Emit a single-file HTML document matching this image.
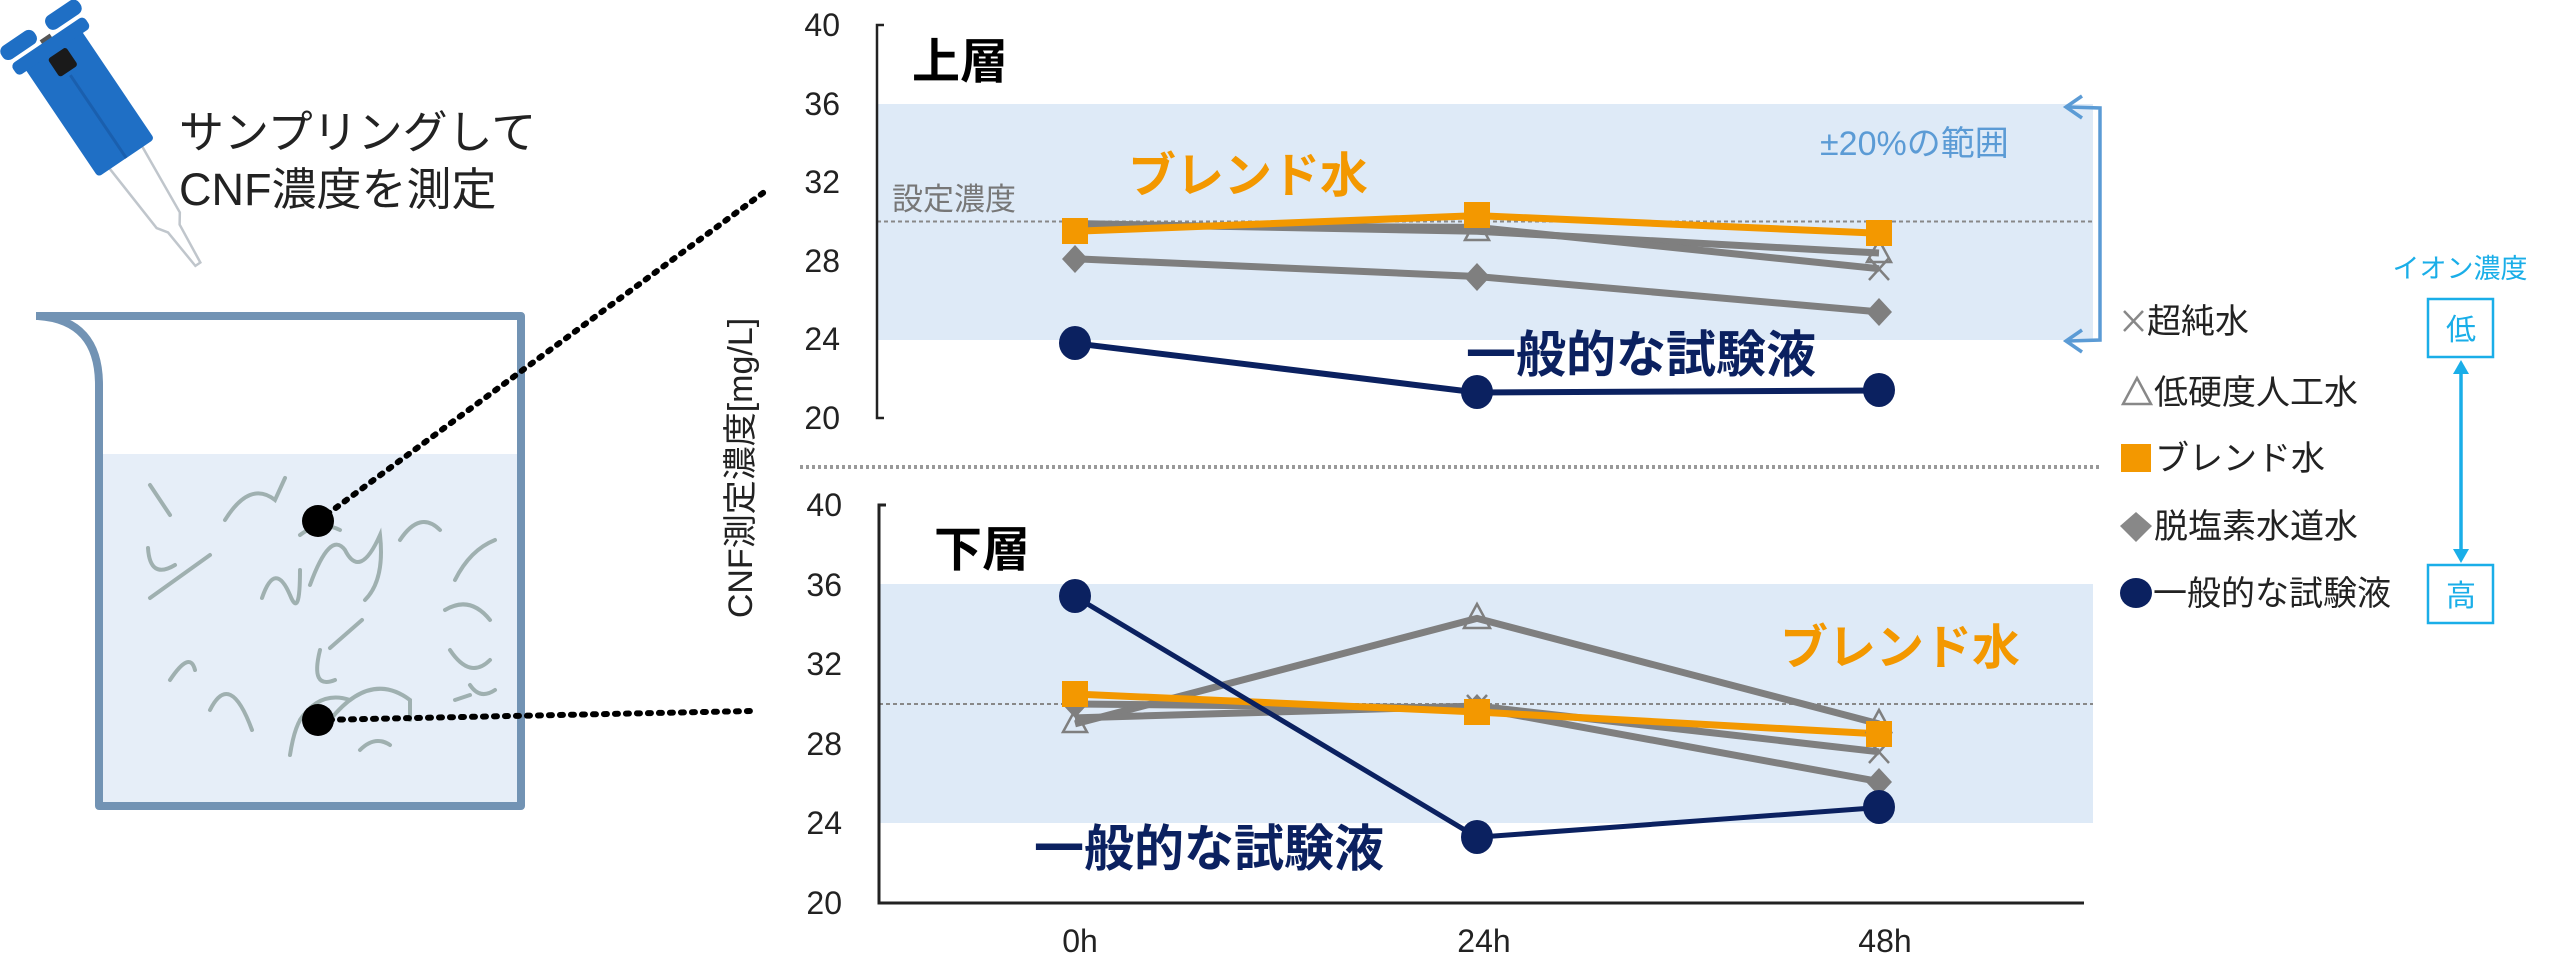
<!DOCTYPE html>
<html><head><meta charset="utf-8"><style>
html,body{margin:0;padding:0;background:#fff;}
svg{display:block;}
text{font-family:"Liberation Sans","Noto Sans CJK JP",sans-serif;}
</style></head><body>
<svg width="2560" height="962" viewBox="0 0 2560 962" xmlns="http://www.w3.org/2000/svg">
<!-- pipette -->
<g transform="translate(48,42) rotate(56)">
<polygon points="135,-20 215,-14 225,-7 268,-3 268,3 225,7 215,14 135,20" fill="#fff" stroke="#c0c6cc" stroke-width="2.5"/>
<rect x="0" y="-34" width="140" height="68" rx="4" fill="#1f6fc5"/>
<rect x="-6" y="-6" width="10" height="12" fill="#555"/>
<rect x="-22" y="-48" width="16" height="40" rx="7" fill="#1f6fc5"/>
<rect x="-22" y="6" width="16" height="40" rx="7" fill="#1f6fc5"/>
<rect x="-2" y="-44" width="14" height="88" rx="5" fill="#1f6fc5"/>
<rect x="14" y="-12" width="22" height="22" rx="3" fill="#1a1a1a"/>
<line x1="40" y1="0" x2="140" y2="0" stroke="#1a5fae" stroke-width="3"/>
</g>
<text x="179" y="148" font-size="45" fill="#222">サンプリングして</text>
<text x="179" y="205" font-size="45" fill="#222">CNF濃度を測定</text>
<!-- beaker -->
<rect x="99" y="454" width="422" height="352" fill="#e6eef8"/>
<path d="M36,316 L521,316 L521,806 L99,806 L99,385 Q99,320 38,316" fill="none" stroke="#7293b4" stroke-width="8" stroke-linejoin="round"/>
<g fill="none" stroke="#9fb0b0" stroke-width="4" stroke-linecap="round">
<path d="M150,485 L170,515"/><path d="M225,520 Q250,480 275,500 L285,478"/>
<path d="M148,548 Q150,580 175,565 M150,598 L210,555"/>
<path d="M262,598 Q275,560 290,595 Q300,620 300,570"/>
<path d="M310,585 Q330,530 345,550 Q360,580 380,535 Q385,580 365,600"/>
<path d="M455,580 Q470,550 495,540 M445,610 Q470,595 490,620"/>
<path d="M170,680 Q190,650 195,670 M210,710 Q230,670 252,730"/>
<path d="M300,720 Q320,690 350,700 M330,648 L362,620"/>
<path d="M290,755 Q300,690 330,720 Q370,670 410,700 L410,720"/>
<path d="M360,750 Q375,735 390,745 M450,650 Q470,680 490,660"/>
<path d="M320,650 Q310,690 335,680"/><path d="M455,700 L470,695 M470,685 Q480,700 495,690"/>
<path d="M300,535 Q320,520 340,530 M400,540 Q420,510 440,530"/>
</g>
<g stroke="#000" stroke-width="6" stroke-dasharray="3 8" stroke-linecap="round" fill="none">
<line x1="318" y1="521" x2="767" y2="190"/>
<line x1="318" y1="720" x2="752" y2="711"/>
</g>
<circle cx="318" cy="521" r="16" fill="#000"/>
<circle cx="318" cy="720" r="16" fill="#000"/>
<!-- y axis title -->
<text transform="translate(752,468) rotate(-90)" font-size="34" fill="#222" text-anchor="middle">CNF測定濃度[mg/L]</text>

<!-- TOP CHART -->
<rect x="877" y="104" width="1216" height="236" fill="#deeaf7"/>
<line x1="877" y1="221.5" x2="2093" y2="221.5" stroke="#888" stroke-width="2" stroke-dasharray="4 3"/>
<path d="M884,25 L877,25 L877,418 L884,418" fill="none" stroke="#222" stroke-width="2.5"/>
<g font-size="32" fill="#222" text-anchor="end">
<text x="840" y="36">40</text><text x="840" y="115">36</text><text x="840" y="193">32</text>
<text x="840" y="272">28</text><text x="840" y="350">24</text><text x="840" y="429">20</text>
</g>
<text x="912" y="78" font-size="48" font-weight="bold" fill="#000">上層</text>
<text x="892" y="210" font-size="31" fill="#777">設定濃度</text>
<text x="1128" y="192" font-size="48" font-weight="bold" fill="#f39800">ブレンド水</text>
<text x="1820" y="155" font-size="34" fill="#5b9bd5">±20%の範囲</text>
<text x="1466" y="372" font-size="50" font-weight="bold" fill="#0b2160">一般的な試験液</text>
<!-- bracket -->
<g fill="none" stroke="#5b9bd5" stroke-width="3.5">
<path d="M2068,107 L2100,108 L2100,340 L2068,341"/>
<path d="M2082,96 L2066,107 L2082,118"/>
<path d="M2082,330 L2066,341 L2082,352"/>
</g>
<g fill="none" stroke-linejoin="round">
<polyline points="1075,258.8 1477,276.5 1879,311.9" stroke="#7f7f7f" stroke-width="7"/>
<polyline points="1075,223.5 1477,231.3 1879,253" stroke="#7f7f7f" stroke-width="7"/>
<polyline points="1075,225.4 1477,227.4 1879,268.7" stroke="#7f7f7f" stroke-width="7"/>
<polyline points="1075,231.3 1477,215.6 1879,233.3" stroke="#f39800" stroke-width="7"/>
<polyline points="1075,343.3 1477,392.5 1879,390.5" stroke="#0b2160" stroke-width="6"/>
</g>
<g fill="#7f7f7f">
<polygon points="1075,245 1088,259 1075,273 1062,259"/><polygon points="1477,263 1490,277 1477,291 1464,277"/><polygon points="1879,298 1892,312 1879,326 1866,312"/>
</g>
<g stroke="#7f7f7f" stroke-width="2.5" fill="none">
<path d="M1869,258 L1889,280 M1889,258 L1869,280"/>
<polygon points="1879,240 1891,262 1867,262"/><polygon points="1477,218 1489,240 1465,240"/>
</g>
<g fill="#f39800">
<rect x="1062" y="218" width="26" height="26"/><rect x="1464" y="202" width="26" height="26"/><rect x="1866" y="220" width="26" height="26"/>
</g>
<g fill="#0b2160">
<ellipse cx="1075" cy="343" rx="16" ry="17"/><ellipse cx="1477" cy="392" rx="16" ry="17"/><ellipse cx="1879" cy="390" rx="16" ry="17"/>
</g>

<!-- divider -->
<line x1="800" y1="467" x2="2100" y2="467" stroke="#999" stroke-width="4" stroke-dasharray="3 3"/>

<!-- BOTTOM CHART -->
<rect x="879" y="584" width="1214" height="239" fill="#deeaf7"/>
<line x1="879" y1="704" x2="2093" y2="704" stroke="#888" stroke-width="2" stroke-dasharray="4 3"/>
<path d="M886,505 L879,505 L879,903 L2084,903" fill="none" stroke="#222" stroke-width="3"/>
<g font-size="32" fill="#222" text-anchor="end">
<text x="842" y="516">40</text><text x="842" y="596">36</text><text x="842" y="675">32</text>
<text x="842" y="755">28</text><text x="842" y="834">24</text><text x="842" y="914">20</text>
</g>
<g font-size="32" fill="#222" text-anchor="middle">
<text x="1080" y="952">0h</text><text x="1484" y="952">24h</text><text x="1885" y="952">48h</text>
</g>
<text x="934" y="566" font-size="48" font-weight="bold" fill="#000">下層</text>
<text x="1780" y="664" font-size="48" font-weight="bold" fill="#f39800">ブレンド水</text>
<text x="1034" y="866" font-size="50" font-weight="bold" fill="#0b2160">一般的な試験液</text>
<g fill="none" stroke-linejoin="round">
<polyline points="1075,723.9 1477,618.4 1879,723.9" stroke="#7f7f7f" stroke-width="7"/>
<polyline points="1075,717.9 1477,706 1879,751.8" stroke="#7f7f7f" stroke-width="7"/>
<polyline points="1075,704 1477,708 1879,781.6" stroke="#7f7f7f" stroke-width="7"/>
<polyline points="1075,694 1477,712 1879,733.9" stroke="#f39800" stroke-width="7"/>
<polyline points="1075,596.5 1477,837.3 1879,807.5" stroke="#0b2160" stroke-width="5"/>
</g>
<g stroke="#7f7f7f" stroke-width="2.5" fill="none">
<polygon points="1477,604 1490,628 1464,628"/><polygon points="1879,710 1891,732 1867,732"/><polygon points="1075,710 1087,732 1063,732"/>
<path d="M1869,741 L1889,763 M1889,741 L1869,763 M1467,695 L1487,717 M1487,695 L1467,717"/>
</g>
<g fill="#7f7f7f">
<polygon points="1075,690 1088,704 1075,718 1062,704"/><polygon points="1477,694 1490,708 1477,722 1464,708"/><polygon points="1879,768 1892,782 1879,796 1866,782"/>
</g>
<g fill="#f39800">
<rect x="1062" y="681" width="26" height="26"/><rect x="1464" y="699" width="26" height="26"/><rect x="1866" y="721" width="26" height="26"/>
</g>
<g fill="#0b2160">
<ellipse cx="1075" cy="596" rx="16" ry="17"/><ellipse cx="1477" cy="837" rx="16" ry="17"/><ellipse cx="1879" cy="807" rx="16" ry="17"/>
</g>

<!-- legend -->
<g font-size="34" fill="#222">
<path d="M2124,311 L2143,331 M2143,311 L2124,331" stroke="#888" stroke-width="2.5"/>
<text x="2147" y="333">超純水</text>
<polygon points="2137,378 2151,404 2123,404" fill="none" stroke="#888" stroke-width="2.5"/>
<text x="2154" y="404">低硬度人工水</text>
<rect x="2121" y="444" width="30" height="28" fill="#f39800"/>
<text x="2155" y="470">ブレンド水</text>
<polygon points="2136,512 2152,526 2136,542 2120,526" fill="#888"/>
<text x="2154" y="538">脱塩素水道水</text>
<ellipse cx="2136" cy="593" rx="16" ry="15" fill="#0b2160"/>
<text x="2153" y="605">一般的な試験液</text>
</g>
<text x="2460" y="278" font-size="27" fill="#1aaee8" text-anchor="middle">イオン濃度</text>
<rect x="2428" y="299" width="65" height="58" fill="#fff" stroke="#1aaee8" stroke-width="2.5"/>
<text x="2461" y="340" font-size="30" fill="#1aaee8" text-anchor="middle">低</text>
<rect x="2428" y="565" width="65" height="58" fill="#fff" stroke="#1aaee8" stroke-width="2.5"/>
<text x="2461" y="606" font-size="30" fill="#1aaee8" text-anchor="middle">高</text>
<line x1="2461" y1="370" x2="2461" y2="552" stroke="#1aaee8" stroke-width="3.5"/>
<polygon points="2461,360 2469,374 2453,374" fill="#1aaee8"/>
<polygon points="2461,563 2469,549 2453,549" fill="#1aaee8"/>
</svg>
</body></html>
